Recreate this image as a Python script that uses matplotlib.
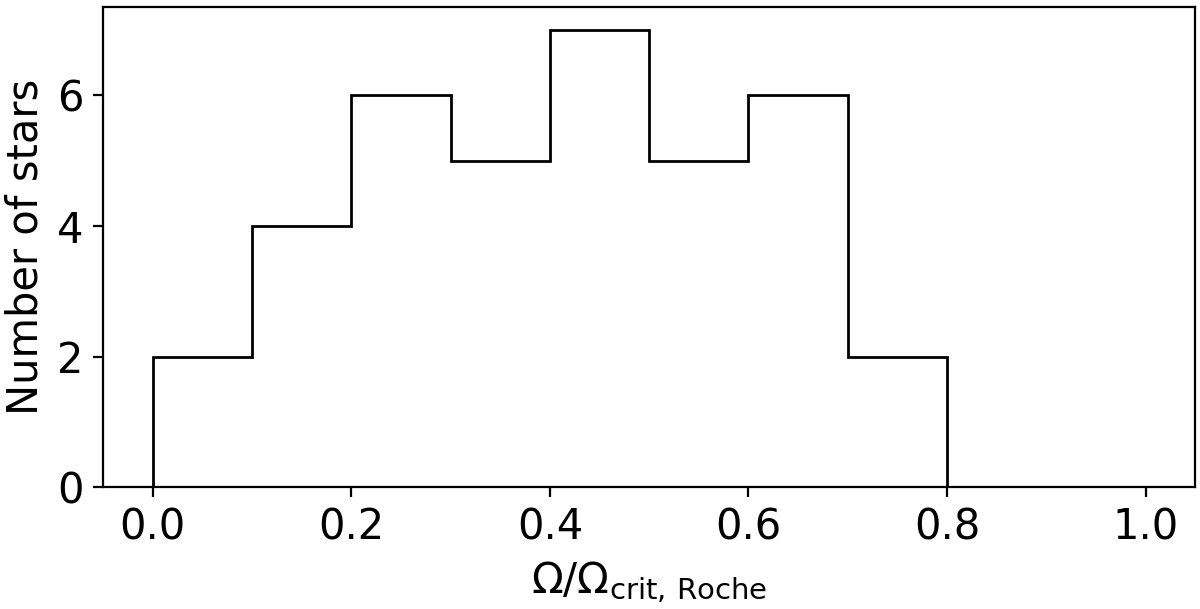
import numpy as np
import matplotlib
matplotlib.use('Agg')
import matplotlib.pyplot as plt

# 直方图数据
bin_edges = [0.0, 0.1, 0.2, 0.3, 0.4, 0.5, 0.6, 0.7, 0.8]
counts = [2, 4, 6, 5, 7, 5, 6, 2]

plt.rcParams['font.size'] = 15

fig, ax = plt.subplots(figsize=(6, 3.045), dpi=200)
ax.hist(bin_edges[:-1], bins=bin_edges, weights=counts, histtype='step', color='black', linewidth=1.0)

ax.set_xlim(-0.05, 1.05)
ax.set_ylim(0, 7.35)
ax.set_xticks([0.0, 0.2, 0.4, 0.6, 0.8, 1.0])
ax.set_yticks([0, 2, 4, 6])
ax.set_xlabel(r'$\Omega/\Omega_{\rm crit,\,Roche}$')
ax.set_ylabel('Number of stars')

fig.subplots_adjust(left=0.086, right=0.996, top=0.988, bottom=0.200)
fig.savefig('out.png', dpi=200)
